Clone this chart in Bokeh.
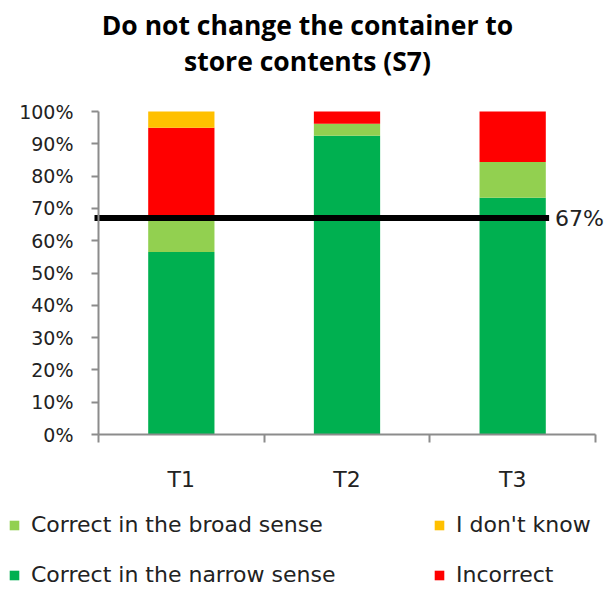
from bokeh.plotting import figure
from bokeh.models import (Range1d, FixedTicker, NumeralTickFormatter, Label, Legend, LegendItem,
                          ColumnDataSource, LinearAxis)
from bokeh.embed import file_html
from bokeh.resources import INLINE

# ---- data ----
categories = ["T1", "T2", "T3"]
narrow = [0.565, 0.925, 0.733]
broad = [0.105, 0.037, 0.111]
incorrect = [0.280, 0.038, 0.156]
dont_know = [0.050, 0.0, 0.0]
target = 0.67
title_lines = ["Do not change the container to", "store contents (S7)"]
series_names = ["Correct in the narrow sense", "Correct in the broad sense", "Incorrect", "I don't know"]
series_colors = ["#00B050", "#92D050", "#FF0000", "#FFC000"]

W, H = 607, 592
# plot-area geometry in pixels (frame covers whole canvas; axes sit at fixed data locations)
AX_L, AX_R, AX_T, AX_B = 98, 595, 111, 434
n = len(categories)
ux = (AX_R - AX_L) / n          # px per category
uy = (AX_B - AX_T) / 1.0        # px per 100%

xs = [i + 0.5 for i in range(n)]
src = ColumnDataSource(dict(x=xs, narrow=narrow, broad=broad, incorrect=incorrect, dk=dont_know))

p = figure(width=W, height=H, output_backend="svg", toolbar_location=None,
           x_range=Range1d(-AX_L / ux, n + (W - AX_R) / ux),
           y_range=Range1d(-(H - AX_B) / uy, AX_B / uy),
           min_border=0, x_axis_location=None, y_axis_location=None)
p.outline_line_color = None
p.xgrid.visible = False
p.ygrid.visible = False

rends = p.vbar_stack(["narrow", "broad", "incorrect", "dk"], x="x", width=0.4, source=src,
                     color=series_colors, line_color=None)

# target line
p.line(x=[-4 / ux, 2.72], y=[target, target], line_color="black", line_width=6)
p.add_layout(Label(x=2.72, y=target, x_offset=6, text=f"{round(target*100)}%",
                   text_font="DejaVu Sans", text_font_size="22px", text_color="#222222",
                   text_baseline="middle", text_align="left"))

# y axis
yax = LinearAxis(ticker=FixedTicker(ticks=[i / 10 for i in range(11)]),
                 formatter=NumeralTickFormatter(format="0%"), fixed_location=0, bounds=(0, 1))
yax.axis_line_color = "#8c8c8c"
yax.axis_line_width = 2
yax.major_tick_line_color = "#8c8c8c"
yax.major_tick_line_width = 2
yax.major_tick_out = 7
yax.major_tick_in = 0
yax.minor_tick_line_color = None
yax.major_label_text_font = "DejaVu Sans"
yax.major_label_text_font_size = "19px"
yax.major_label_text_color = "#222222"
yax.major_label_standoff = 18
p.add_layout(yax, "left")

# x axis
xax = LinearAxis(ticker=FixedTicker(ticks=xs, minor_ticks=list(range(n + 1))),
                 fixed_location=0, bounds=(0, n))
xax.major_label_overrides = {x: c for x, c in zip(xs, categories)}
xax.axis_line_color = "#8c8c8c"
xax.axis_line_width = 2
xax.major_tick_line_color = None
xax.minor_tick_line_color = "#8c8c8c"
xax.minor_tick_line_width = 2
xax.minor_tick_out = 8
xax.minor_tick_in = 0
xax.major_label_text_font = "DejaVu Sans"
xax.major_label_text_font_size = "22px"
xax.major_label_text_color = "#222222"
xax.major_label_standoff = 24
p.add_layout(xax, "below")

# title
cx = (307 - AX_L) / ux
for txt, py in zip(title_lines, [24, 60]):
    p.add_layout(Label(x=cx, y=(AX_B - py) / uy, text=txt, text_font="Open Sans",
                       text_font_style="bold", text_font_size="26.5px", text_align="center",
                       text_baseline="middle", text_color="black"))

# legends
def mk_legend(items, loc):
    lg = Legend(items=items, location=loc, orientation="vertical")
    lg.border_line_color = None
    lg.background_fill_alpha = 0
    lg.padding = 0
    lg.margin = 0
    lg.spacing = 25
    lg.glyph_width = 12
    lg.glyph_height = 12
    lg.label_standoff = 11
    lg.label_text_font = "DejaVu Sans"
    lg.label_text_font_size = "22px"
    lg.label_text_color = "#222222"
    lg.label_height = 20
    return lg

leg1 = mk_legend([LegendItem(label=series_names[1], renderers=[rends[1]]),
                  LegendItem(label=series_names[0], renderers=[rends[0]])], (8, 5))
leg2 = mk_legend([LegendItem(label=series_names[3], renderers=[rends[3]]),
                  LegendItem(label=series_names[2], renderers=[rends[2]])], (433, 5))
p.add_layout(leg1, "center")
p.add_layout(leg2, "center")

open("out.html", "w").write(file_html(p, INLINE))
